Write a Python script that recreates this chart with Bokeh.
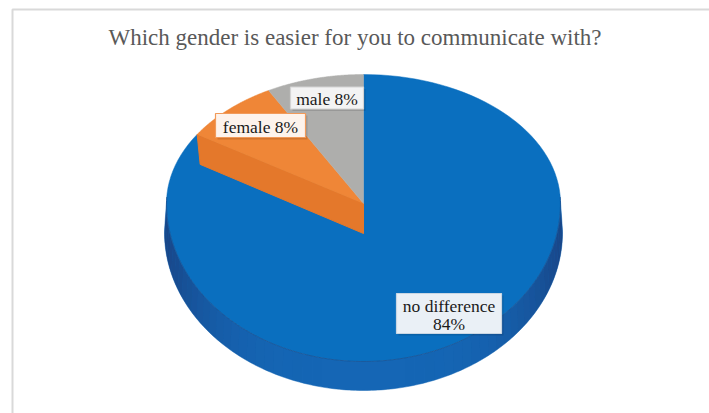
import numpy as np
from bokeh.plotting import figure
from bokeh.models import Range1d
from bokeh.core.properties import value
from bokeh.embed import file_html
from bokeh.resources import INLINE

# ---- data ----
categories = ["no difference", "female", "male"]
percents = [84, 8, 8]
label_texts = ["no difference\n84%", "female 8%", "male 8%"]
title_text = "Which gender is easier for you to communicate with?"

# ---- layout / style ----
W, H = 709, 413
CX, CY = 363, 203          # pie apex (screen px, y down)
A = 197                    # horizontal semi-axis
B_BACK, B_FRONT = 129, 158 # perspective: back / front semi-axes
DEPTH = 29
top_colors = ["#0A6FBF", "#EF8637", "#AEAEAC"]
side_face_color = "#E4782B"
FONT = "Liberation Serif"

def ell(t, a=A, dy=0.0):
    t = np.asarray(t, dtype=float)
    x = CX + a * np.sin(t)
    c = np.cos(t)
    y = CY - np.where(c >= 0, B_BACK * c, B_FRONT * c) + dy
    return x, y

p = figure(width=W, height=H, x_range=Range1d(0, W), y_range=Range1d(H, 0),
           output_backend="svg", toolbar_location=None, min_border=0)
p.axis.visible = False
p.grid.visible = False
p.outline_line_color = None
p.background_fill_color = "white"
p.border_fill_color = "white"

# chart border
p.quad(left=[12], right=[W + 20], top=[9], bottom=[H + 20],
       fill_color=None, line_color="#D9D9D9", line_width=2)

# title
p.text(x=[W / 2], y=[37], text=[title_text], text_align="center",
       text_baseline="middle", text_font=value(FONT), text_font_size="23px",
       text_color="#595959")

# slice angles (clockwise from 12 o'clock)
fr = np.array(percents, dtype=float) / sum(percents)
ends = np.cumsum(fr) * 2 * np.pi
starts = ends - fr * 2 * np.pi

# side band (front half): base patch + shading overlays
tt = np.linspace(np.pi / 2 - 0.02, 3 * np.pi / 2 + 0.02, 200)
x1, y1 = ell(tt)
x2, y2 = ell(tt[::-1], a=A + 2, dy=DEPTH)
p.patch(np.concatenate([x1, x2]), np.concatenate([y1, y2]),
        fill_color="#1566B5", line_color="#1566B5", line_width=0.5)
nseg = 60
ts_all = np.linspace(np.pi / 2, 3 * np.pi / 2, nseg + 1)
xs, ys, alphas = [], [], []
for i in range(nseg):
    t0, t1 = ts_all[i], ts_all[i + 1]
    ts = np.linspace(t0, t1, 4)
    a1, b1 = ell(ts)
    a2, b2 = ell(ts[::-1], a=A + 2, dy=DEPTH)
    xs.append(list(np.concatenate([a1, a2])))
    ys.append(list(np.concatenate([b1, b2])))
    tm = 0.5 * (t0 + t1)
    f = abs(np.sin(tm)) ** 4
    alphas.append(float(0.8 * f))
p.patches(xs, ys, fill_color="#1A3E7C", fill_alpha=alphas, line_color=None)

# top faces
for i in range(len(percents)):
    ts = np.linspace(starts[i], ends[i], 120)
    x, y = ell(ts)
    px = np.concatenate([[CX], x])
    py = np.concatenate([[CY], y])
    if i == 0:
        p.patch(px, py, fill_color=top_colors[i], line_color=top_colors[i], line_width=0.5)
        tr = np.linspace(np.pi / 2 - 0.05, 3 * np.pi / 2 + 0.05, 120)
        rx, ry = ell(tr)
        p.line(rx, ry, line_color="#1B5394", line_width=1, line_alpha=0.8)
    elif i == 1:
        ex, ey = ell([starts[i]])
        fx = [CX, ex[0], ex[0] + 3, CX]
        fy = [CY, ey[0], ey[0] + DEPTH + 1, CY + DEPTH + 1]
        p.patch(fx, fy, fill_color=side_face_color, line_color=side_face_color)
        p.patch(px, py, fill_color=top_colors[i], line_color=top_colors[i], line_width=0.5)
    else:
        p.patch(px, py, fill_color=top_colors[i], line_color=top_colors[i], line_width=0.5)

# data labels (box centres, sizes)
lab_pos = [(448.5, 313, 105, 40), (260, 125, 90, 24), (326.5, 97.5, 73, 22)]
lab_bg = ["#EAF0F6", "#FDF3EC", "#F3F3F3"]
lab_border = ["#C9D6E3", "#F19A5A", "#D3D3D3"]
for i, (lx, ly, bw, bh) in enumerate(lab_pos):
    p.quad(left=[lx - bw / 2 + 2], right=[lx + bw / 2 + 2], top=[ly - bh / 2 + 2],
           bottom=[ly + bh / 2 + 2], fill_color="black", fill_alpha=0.12, line_color=None)
    p.quad(left=[lx - bw / 2], right=[lx + bw / 2], top=[ly - bh / 2],
           bottom=[ly + bh / 2], fill_color=lab_bg[i], line_color=lab_border[i], line_width=1.2)
    lines = label_texts[i].split("\n")
    n = len(lines)
    for j, s in enumerate(lines):
        yy = ly + (j - (n - 1) / 2) * 18
        p.text(x=[lx], y=[yy + 1], text=[s], text_align="center", text_baseline="middle",
               text_font=value(FONT), text_font_size="17.5px", text_color="#1A1A1A")

open("out.html", "w").write(file_html(p, INLINE))
